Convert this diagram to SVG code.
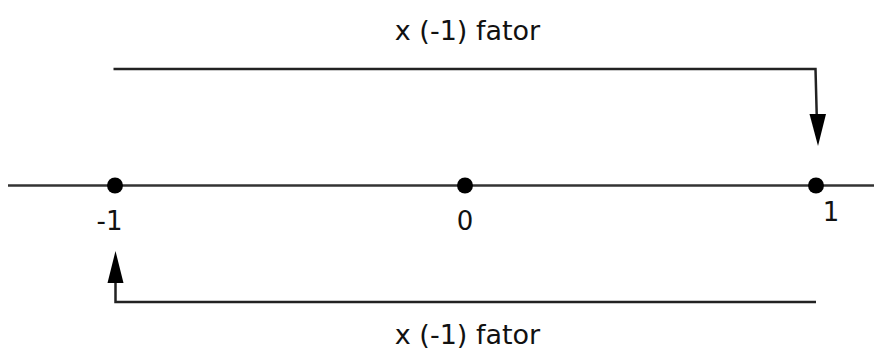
<svg xmlns="http://www.w3.org/2000/svg" width="874" height="349" viewBox="0 0 874 349">
<style>
.ln{fill:none;stroke:#222;stroke-width:2.5}
.axis{fill:none;stroke:#333;stroke-width:2.6}
.dot{fill:#000}
.head{fill:#000}
text{font-family:"DejaVu Sans",sans-serif;font-size:27px;fill:#111}
.lbl{font-size:26px}
</style>
<rect width="874" height="349" fill="#fff"/>
<g id="axis">
<line class="axis" x1="8" y1="185.5" x2="874" y2="185.5"/>
</g>
<g id="connectors">
<polyline class="ln" points="113.5,69 815.5,69 816.8,118"/>
<polygon class="head" points="809.5,114 826,114 818,146"/>
<polyline class="ln" points="816,302 115.5,302 115.5,280"/>
<polygon class="head" points="107.5,283 123.5,283 115.5,251"/>
</g>
<g id="n-neg1">
<circle class="dot" cx="115" cy="185.5" r="8"/>
<text class="lbl" x="109.5" y="229.5" text-anchor="middle">-1</text>
</g>
<g id="n-0">
<circle class="dot" cx="465" cy="185.5" r="8"/>
<text class="lbl" x="465" y="229.5" text-anchor="middle">0</text>
</g>
<g id="n-1">
<circle class="dot" cx="816" cy="185.5" r="8"/>
<text class="lbl" x="831" y="220.5" text-anchor="middle">1</text>
</g>
<g id="label-top">
<text x="467.5" y="40" text-anchor="middle">x (-1) fator</text>
</g>
<g id="label-bottom">
<text x="467.5" y="344" text-anchor="middle">x (-1) fator</text>
</g>
</svg>
